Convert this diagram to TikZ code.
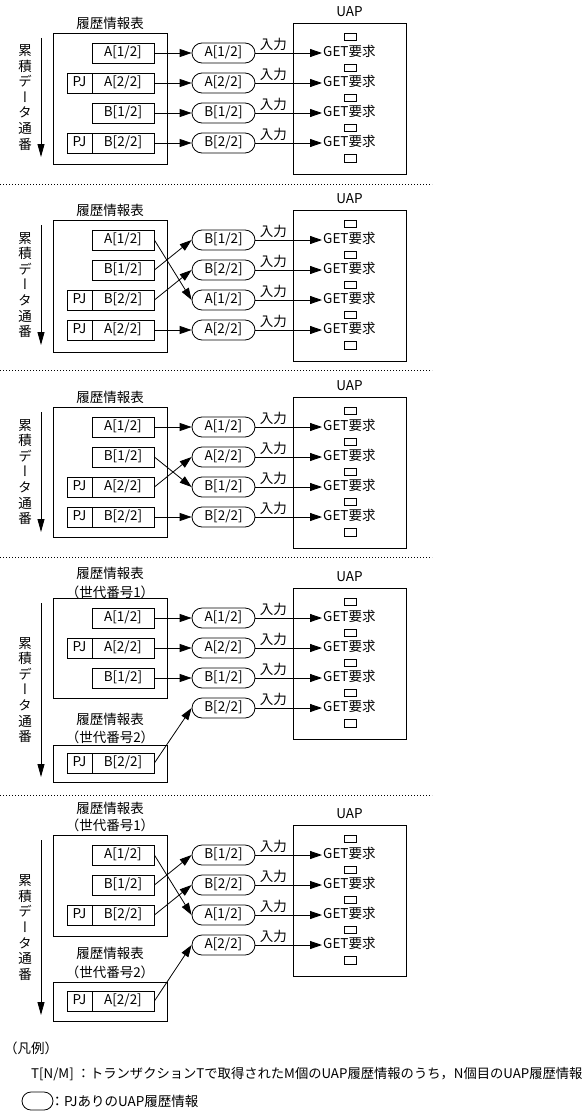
\documentclass[tikz,border=0pt]{standalone}
\usepackage{fontspec}
\setmainfont{Noto Sans CJK JP}
\newfontfamily\vertfont[RawFeature=+vert]{Noto Sans CJK JP}
\usetikzlibrary{arrows.meta,shapes.misc}
\tikzset{
  every node/.style={inner sep=0pt},
  lw/.style={line width=0.8pt},
  hbox/.style={draw, lw, minimum width=62pt, minimum height=20pt, text height=9.5pt, text depth=2.5pt},
  pjbox/.style={draw, lw, minimum width=25pt, minimum height=20pt, text height=9.5pt, text depth=2.5pt},
  pill/.style={draw, lw, rounded rectangle, minimum width=63pt, minimum height=20pt, text height=9.5pt, text depth=2.5pt},
  obox/.style={draw, lw, minimum width=114pt},
  uapbox/.style={draw, lw, minimum width=113pt},
  sq/.style={draw, lw, minimum width=12pt, minimum height=7.5pt},
  getreq/.style={anchor=west, inner sep=1pt, text height=9.5pt, text depth=2.5pt},
  arr/.style={lw, -{Triangle[length=12pt,width=8pt]}},
  downarr/.style={lw, -{Triangle[length=13pt,width=7pt]}},
  inlab/.style={above, pos=0.27, inner sep=1.5pt},
  vtext/.style={align=center, font=\vertfont\fontsize{13.5}{15.6}\selectfont},
  sep/.style={line width=0.8pt, dash pattern=on 1pt off 2pt},
}
\newcommand\UAPside[5]{%
  \node[uapbox, minimum height={#5-#2+61}] (#1box) at (349.5,{(#2+#5)/2+0.5}) {};
  \node (#1lab) at (349.5,{#2-41}) {UAP};
  \node[sq] (#1s0) at (350,{#2-16}) {};
  \node[sq] (#1s1) at (350,{#2+15}) {};
  \node[sq] (#1s2) at (350,{#3+15}) {};
  \node[sq] (#1s3) at (350,{#4+15}) {};
  \node[sq] (#1s4) at (350,{#5+15.5}) {};
  \node[getreq] (#1g1) at (322,#2) {GET要求};
  \node[getreq] (#1g2) at (322,#3) {GET要求};
  \node[getreq] (#1g3) at (322,#4) {GET要求};
  \node[getreq] (#1g4) at (322,#5) {GET要求};
}
\newcommand\SideArrow[3]{%
  \coordinate (#1ds) at (41,#2);
  \coordinate (#1de) at (41,#3);
  \draw[downarr] (#1ds) -- (#1de);
  \node[vtext] (#1vt) at (25,{(#2+#3)/2}) {累\\積\\デ\\ー\\タ\\通\\番};
}
\begin{document}
\begin{tikzpicture}[x=1pt,y=-1pt,font=\fontsize{13.5}{16}\selectfont]
\useasboundingbox (0,0) rectangle (588,1113);

% ---------- Panel 1 ----------
\SideArrow{A}{38}{157}
\node (At) at (110,23) {履歴情報表};
\node[obox, minimum height=131pt] (Ao) at (110,98.5) {};
\node[hbox] (Ab1) at (123,53) {A[1/2]};
\node[hbox] (Ab2) at (123,83) {A[2/2]};
\node[pjbox] (Aj2) at (79.5,83) {PJ};
\node[hbox] (Ab3) at (123,113) {B[1/2]};
\node[hbox] (Ab4) at (123,143) {B[2/2]};
\node[pjbox] (Aj4) at (79.5,143) {PJ};
\node[pill] (Ap1) at (223.5,53) {A[1/2]};
\node[pill] (Ap2) at (223.5,83) {A[2/2]};
\node[pill] (Ap3) at (223.5,113) {B[1/2]};
\node[pill] (Ap4) at (223.5,143) {B[2/2]};
\UAPside{A}{53}{83}{113}{143}
\draw[arr] (Ab1.east) -- (Ap1.west);
\draw[arr] (Ab2.east) -- (Ap2.west);
\draw[arr] (Ab3.east) -- (Ap3.west);
\draw[arr] (Ab4.east) -- (Ap4.west);
\draw[arr] (Ap1.east) -- node[inlab] (Ai1) {入力} (Ag1.west);
\draw[arr] (Ap2.east) -- node[inlab] (Ai2) {入力} (Ag2.west);
\draw[arr] (Ap3.east) -- node[inlab] (Ai3) {入力} (Ag3.west);
\draw[arr] (Ap4.east) -- node[inlab] (Ai4) {入力} (Ag4.west);

\coordinate (S1a) at (0,184); \coordinate (S1b) at (432,184);
\draw[sep] (S1a) -- (S1b);

% ---------- Panel 2 ----------
\SideArrow{B}{225}{345}
\node (Bt) at (110,210) {履歴情報表};
\node[obox, minimum height=132pt] (Bo) at (110,286) {};
\node[hbox] (Bb1) at (123,240) {A[1/2]};
\node[hbox] (Bb2) at (123,270) {B[1/2]};
\node[hbox] (Bb3) at (123,300) {B[2/2]};
\node[pjbox] (Bj3) at (79.5,300) {PJ};
\node[hbox] (Bb4) at (123,330) {A[2/2]};
\node[pjbox] (Bj4) at (79.5,330) {PJ};
\node[pill] (Bp1) at (223.5,240) {B[1/2]};
\node[pill] (Bp2) at (223.5,270) {B[2/2]};
\node[pill] (Bp3) at (223.5,300) {A[1/2]};
\node[pill] (Bp4) at (223.5,330) {A[2/2]};
\UAPside{B}{240}{270}{300}{330}
\draw[arr] (Bb1.east) -- (Bp3.west);
\draw[arr] (Bb2.east) -- (Bp1.west);
\draw[arr] (Bb3.east) -- (Bp2.west);
\draw[arr] (Bb4.east) -- (Bp4.west);
\draw[arr] (Bp1.east) -- node[inlab] (Bi1) {入力} (Bg1.west);
\draw[arr] (Bp2.east) -- node[inlab] (Bi2) {入力} (Bg2.west);
\draw[arr] (Bp3.east) -- node[inlab] (Bi3) {入力} (Bg3.west);
\draw[arr] (Bp4.east) -- node[inlab] (Bi4) {入力} (Bg4.west);

\coordinate (S2a) at (0,370); \coordinate (S2b) at (432,370);
\draw[sep] (S2a) -- (S2b);

% ---------- Panel 3 ----------
\SideArrow{C}{412}{532}
\node (Ct) at (110,397) {履歴情報表};
\node[obox, minimum height=130pt] (Co) at (110,472) {};
\node[hbox] (Cb1) at (123,427) {A[1/2]};
\node[hbox] (Cb2) at (123,457) {B[1/2]};
\node[hbox] (Cb3) at (123,487) {A[2/2]};
\node[pjbox] (Cj3) at (79.5,487) {PJ};
\node[hbox] (Cb4) at (123,517) {B[2/2]};
\node[pjbox] (Cj4) at (79.5,517) {PJ};
\node[pill] (Cp1) at (223.5,427) {A[1/2]};
\node[pill] (Cp2) at (223.5,457) {A[2/2]};
\node[pill] (Cp3) at (223.5,487) {B[1/2]};
\node[pill] (Cp4) at (223.5,517) {B[2/2]};
\UAPside{C}{427}{457}{487}{517}
\draw[arr] (Cb1.east) -- (Cp1.west);
\draw[arr] (Cb2.east) -- (Cp3.west);
\draw[arr] (Cb3.east) -- (Cp2.west);
\draw[arr] (Cb4.east) -- (Cp4.west);
\draw[arr] (Cp1.east) -- node[inlab] (Ci1) {入力} (Cg1.west);
\draw[arr] (Cp2.east) -- node[inlab] (Ci2) {入力} (Cg2.west);
\draw[arr] (Cp3.east) -- node[inlab] (Ci3) {入力} (Cg3.west);
\draw[arr] (Cp4.east) -- node[inlab] (Ci4) {入力} (Cg4.west);

\coordinate (S3a) at (0,557); \coordinate (S3b) at (432,557);
\draw[sep] (S3a) -- (S3b);

% ---------- Panel 4 ----------
\SideArrow{D}{603}{777}
\node (Dt) at (110,573) {履歴情報表};
\node (Dt2) at (110,592) {（世代番号1）};
\node[obox, minimum height=100pt] (Do) at (110,648) {};
\node[hbox] (Db1) at (123,618) {A[1/2]};
\node[hbox] (Db2) at (123,648) {A[2/2]};
\node[pjbox] (Dj2) at (79.5,648) {PJ};
\node[hbox] (Db3) at (123,678) {B[1/2]};
\node (Du) at (110,719) {履歴情報表};
\node (Du2) at (110,737) {（世代番号2）};
\node[obox, minimum height=37pt] (Do2) at (110,763.5) {};
\node[hbox] (Db4) at (123,763) {B[2/2]};
\node[pjbox] (Dj4) at (79.5,763) {PJ};
\node[pill] (Dp1) at (223.5,618) {A[1/2]};
\node[pill] (Dp2) at (223.5,648) {A[2/2]};
\node[pill] (Dp3) at (223.5,678) {B[1/2]};
\node[pill] (Dp4) at (223.5,708) {B[2/2]};
\UAPside{D}{618}{648}{678}{708}
\draw[arr] (Db1.east) -- (Dp1.west);
\draw[arr] (Db2.east) -- (Dp2.west);
\draw[arr] (Db3.east) -- (Dp3.west);
\draw[arr] (Db4.east) -- (Dp4.west);
\draw[arr] (Dp1.east) -- node[inlab] (Di1) {入力} (Dg1.west);
\draw[arr] (Dp2.east) -- node[inlab] (Di2) {入力} (Dg2.west);
\draw[arr] (Dp3.east) -- node[inlab] (Di3) {入力} (Dg3.west);
\draw[arr] (Dp4.east) -- node[inlab] (Di4) {入力} (Dg4.west);

\coordinate (S4a) at (0,795); \coordinate (S4b) at (432,795);
\draw[sep] (S4a) -- (S4b);

% ---------- Panel 5 ----------
\SideArrow{E}{840}{1015}
\node (Et) at (110,808) {履歴情報表};
\node (Et2) at (110,825) {（世代番号1）};
\node[obox, minimum height=101pt] (Eo) at (110,885.5) {};
\node[hbox] (Eb1) at (123,855) {A[1/2]};
\node[hbox] (Eb2) at (123,885) {B[1/2]};
\node[hbox] (Eb3) at (123,915) {B[2/2]};
\node[pjbox] (Ej3) at (79.5,915) {PJ};
\node (Eu) at (110,953) {履歴情報表};
\node (Eu2) at (110,972) {（世代番号2）};
\node[obox, minimum height=39pt] (Eo2) at (110,1001.5) {};
\node[hbox] (Eb4) at (123,1001) {A[2/2]};
\node[pjbox] (Ej4) at (79.5,1001) {PJ};
\node[pill] (Ep1) at (223.5,855) {B[1/2]};
\node[pill] (Ep2) at (223.5,885) {B[2/2]};
\node[pill] (Ep3) at (223.5,915) {A[1/2]};
\node[pill] (Ep4) at (223.5,945) {A[2/2]};
\UAPside{E}{855}{885}{915}{945}
\draw[arr] (Eb1.east) -- (Ep3.west);
\draw[arr] (Eb2.east) -- (Ep1.west);
\draw[arr] (Eb3.east) -- (Ep2.west);
\draw[arr] (Eb4.east) -- (Ep4.west);
\draw[arr] (Ep1.east) -- node[inlab] (Ei1) {入力} (Eg1.west);
\draw[arr] (Ep2.east) -- node[inlab] (Ei2) {入力} (Eg2.west);
\draw[arr] (Ep3.east) -- node[inlab] (Ei3) {入力} (Eg3.west);
\draw[arr] (Ep4.east) -- node[inlab] (Ei4) {入力} (Eg4.west);

% ---------- Legend ----------
\node[anchor=west] (L0) at (4,1048) {（凡例）};
\node[anchor=west, font=\fontsize{13.3}{16}\selectfont] (L1) at (31,1074) {T[N/M] ：トランザクションTで取得されたM個のUAP履歴情報のうち，N個目のUAP履歴情報};
\node[pill, minimum width=31pt, minimum height=18pt] (Lp) at (37.5,1101) {};
\node[anchor=west, xshift=-3pt] (L2) at (Lp.east) {：PJありのUAP履歴情報};
\end{tikzpicture}
\end{document}
